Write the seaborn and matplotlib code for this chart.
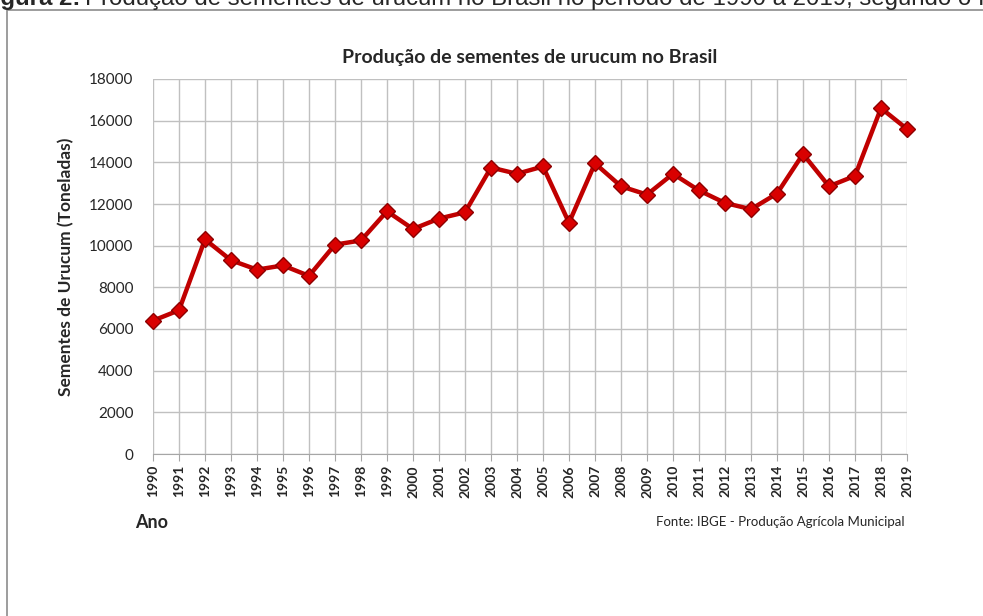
import matplotlib
matplotlib.use("Agg")
import matplotlib.pyplot as plt
import matplotlib.patches as mpatches
import pandas as pd
import seaborn as sns

anos = list(range(1990, 2020))
producao = [6400, 6900, 10300, 9300, 8850, 9050, 8550, 10050, 10250, 11650,
            10800, 11300, 11600, 13750, 13450, 13800, 11100, 13950, 12850, 12450,
            13450, 12650, 12050, 11750, 12500, 14400, 12850, 13350, 16600, 15600]
yticks = [0, 2000, 4000, 6000, 8000, 10000, 12000, 14000, 16000, 18000]

df = pd.DataFrame({"ano": anos, "producao": producao})

sns.set_style("white")
plt.rcParams["font.family"] = ["Lato", "DejaVu Sans"]

fig = plt.figure(figsize=(9.83, 6.16), dpi=100)
ax = fig.add_axes([153 / 983, 1 - 454 / 616, (907 - 153) / 983, (454 - 79) / 616])

sns.lineplot(data=df, x="ano", y="producao", ax=ax, color="#C00000", linewidth=3.2,
             marker="D", markersize=8, markerfacecolor="#D90000",
             markeredgecolor="#8E0000", markeredgewidth=1.0, zorder=5, clip_on=False)

ax.set_xlim(1990, 2019)
ax.set_ylim(0, 18000)
ax.set_xticks(anos)
ax.set_xticklabels([str(a) for a in anos], rotation=90, fontsize=10, fontweight="bold")
ax.set_yticks(yticks)
ax.set_yticklabels([str(v) for v in yticks], fontsize=11)
ax.grid(True, color="#C0C0C0", linewidth=1)
ax.set_axisbelow(True)
for s in ["top", "right", "left"]:
    ax.spines[s].set_visible(False)
ax.spines["bottom"].set_color("#A6A6A6")
ax.tick_params(axis="x", length=5, color="#A6A6A6", bottom=True, pad=3)
ax.tick_params(axis="y", length=0, pad=14)
ax.set_xlabel("")
ax.set_ylabel("Sementes de Urucum (Toneladas)", fontsize=12.5, fontweight="bold", labelpad=11)

fig.text(530 / 983, 1 - 57 / 616, "Produção de sementes de urucum no Brasil",
         ha="center", va="center", fontsize=14, fontweight="bold")
fig.text(135 / 983, 1 - 523 / 616, "Ano", ha="left", va="center", fontsize=13, fontweight="bold")
fig.text(905 / 983, 1 - 522 / 616, "Fonte: IBGE - Produção Agrícola Municipal",
         ha="right", va="center", fontsize=9.5)

# moldura da figura
fig.patches.append(mpatches.Rectangle((7 / 983, -0.1), 1.1, 1 - 9.5 / 616 + 0.1,
                                      transform=fig.transFigure, fill=False,
                                      edgecolor="#8C8C8C", linewidth=1.2))

# legenda da figura, cortada no topo como no original
cap_y = 1 - 5.5 / 616
t1 = fig.text(-21 / 983, cap_y, "Figura 2:", ha="left", va="baseline", fontsize=17.3,
              fontweight="bold", family=["Liberation Sans"])
fig.canvas.draw()
bb = t1.get_window_extent()
fig.text(bb.x1 / 983 + 5 / 983, cap_y,
         "Produção de sementes de urucum no Brasil no período de 1990 a 2019, segundo o IBGE.",
         ha="left", va="baseline", fontsize=17.3, family=["Liberation Sans"])

fig.savefig("out.png", dpi=100)
